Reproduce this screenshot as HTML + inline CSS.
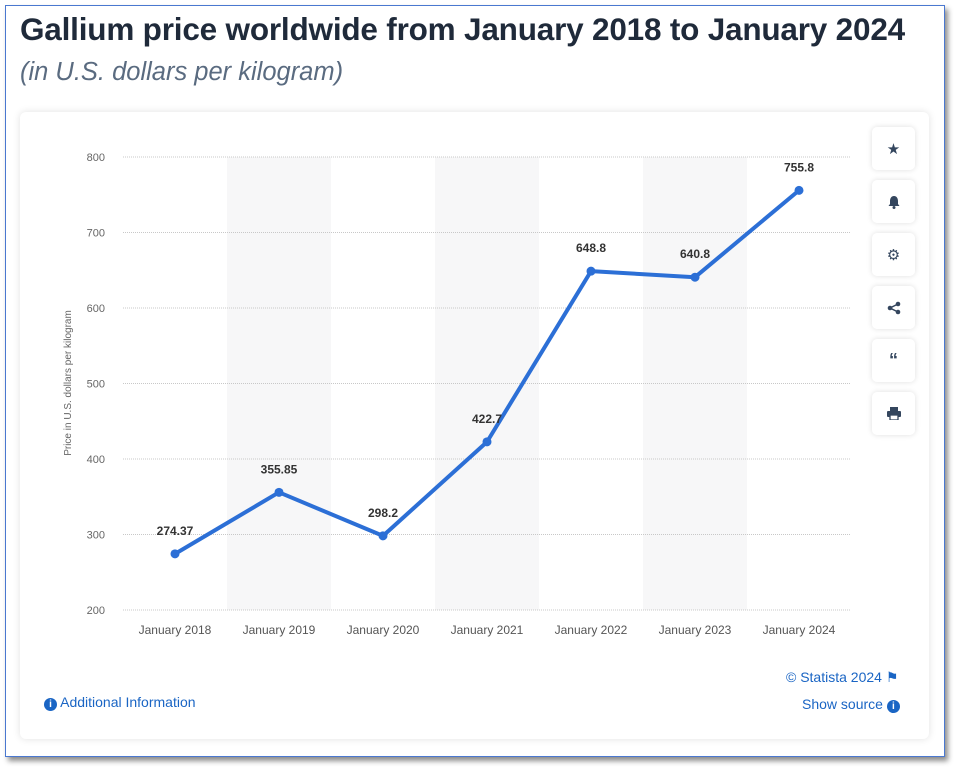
<!DOCTYPE html>
<html><head><meta charset="utf-8"><style>
body{margin:0;width:959px;height:770px;background:#fff;font-family:"Liberation Sans",sans-serif;position:relative;overflow:hidden}
#frame{position:absolute;left:5px;top:5px;width:938px;height:750px;border:1px solid #4a78d0;box-shadow:3px 4px 5px rgba(0,0,0,.45);background:#fff}
#title{position:absolute;left:20px;top:11px;font-size:31.5px;font-weight:bold;color:#1f2a3a;letter-spacing:-0.2px}
#sub{position:absolute;left:20px;top:58px;font-size:25.5px;font-style:italic;color:#5a6b80}
#card{position:absolute;left:20px;top:112px;width:909px;height:627px;background:#fff;border-radius:6px;box-shadow:0 0 8px rgba(0,0,0,.12)}
.btn{position:absolute;left:872px;width:43px;height:43px;background:#fff;border-radius:5px;box-shadow:0 0 6px rgba(0,0,0,.13);display:flex;align-items:center;justify-content:center;color:#34465e;font-size:15px}
.lnk{position:absolute;color:#1a65c4;font-size:14px}
</style></head><body>
<div id="frame"></div>
<div id="title">Gallium price worldwide from January 2018 to January 2024</div>
<div id="sub">(in U.S. dollars per kilogram)</div>
<div id="card"></div>
<svg id="chart" width="959" height="770" style="position:absolute;left:0;top:0"></svg>
<div class="btn" style="top:127px">★</div>
<div class="btn" style="top:180px"><svg width="12" height="14"><path d="M6 1C3 1 2 4 2 6V9L0.5 11H11.5L10 9V6C10 4 9 1 6 1Z" fill="#34465e"/><circle cx="6" cy="12.5" r="1.5" fill="#34465e"/></svg></div>
<div class="btn" style="top:233px">⚙</div>
<div class="btn" style="top:286px"><svg width="14" height="14"><circle cx="11" cy="3" r="2.3" fill="#34465e"/><circle cx="3" cy="7" r="2.3" fill="#34465e"/><circle cx="11" cy="11" r="2.3" fill="#34465e"/><path d="M11 3L3 7L11 11" stroke="#34465e" stroke-width="1.5" fill="none"/></svg></div>
<div class="btn" style="top:339px;font-weight:bold;font-size:18px">“</div>
<div class="btn" style="top:392px"><svg width="14" height="13"><rect x="3" y="0" width="8" height="4" fill="#34465e"/><rect x="0" y="4" width="14" height="6" rx="1" fill="#34465e"/><rect x="3" y="8" width="8" height="5" fill="#fff" stroke="#34465e" stroke-width="1.3"/></svg></div>
<div class="lnk" style="left:786px;top:669px">© Statista 2024 ⚑</div>
<div class="lnk" style="left:44px;top:694px"><span style="display:inline-block;width:13px;height:13px;border-radius:50%;background:#1a65c4;color:#fff;font-size:10px;text-align:center;line-height:13px;font-weight:bold">i</span> Additional Information</div>
<div class="lnk" style="left:802px;top:696px">Show source <span style="display:inline-block;width:13px;height:13px;border-radius:50%;background:#1a65c4;color:#fff;font-size:10px;text-align:center;line-height:13px;font-weight:bold">i</span></div>
<script>
const categories=["January 2018","January 2019","January 2020","January 2021","January 2022","January 2023","January 2024"];
const values=[274.37,355.85,298.2,422.7,648.8,640.8,755.8];
const valueLabels=["274.37","355.85","298.2","422.7","648.8","640.8","755.8"];
const yTicks=[200,300,400,500,600,700,800];
const NS="http://www.w3.org/2000/svg";
const svg=document.getElementById('chart');
const x0=123,bw=104,yTop=157,yBot=610,yMin=200,yMax=800;
const xs=i=>x0+bw*(i+0.5);
const ys=v=>yBot-(v-yMin)/(yMax-yMin)*(yBot-yTop);
function mk(t,a){const e=document.createElementNS(NS,t);for(const k in a)e.setAttribute(k,a[k]);svg.appendChild(e);return e;}
categories.forEach((c,i)=>{if(i%2==1){const r=mk('rect',{x:x0+bw*i,y:yTop,width:bw,height:yBot-yTop,fill:'#f7f7f8'});

}});
yTicks.forEach(t=>{const l=mk('line',{x1:x0,x2:x0+bw*7,y1:ys(t),y2:ys(t),stroke:'#c8c8c8','stroke-dasharray':'1 1'});


const tx=mk('text',{x:105,y:ys(t)+4,'text-anchor':'end','font-size':11,fill:'#666'});tx.textContent=t;

});
categories.forEach((c,i)=>{const tx=mk('text',{x:xs(i),y:634,'text-anchor':'middle','font-size':12,fill:'#555'});tx.textContent=c;

});
const yt=mk('text',{x:0,y:0,transform:'translate(71,383) rotate(-90)','text-anchor':'middle','font-size':10,fill:'#666'});yt.textContent='Price in U.S. dollars per kilogram';


const ln=mk('polyline',{points:values.map((v,i)=>xs(i)+','+ys(v)).join(' '),fill:'none',stroke:'#2c6fd6','stroke-width':4,'stroke-linejoin':'round'});


values.forEach((v,i)=>{const c=mk('circle',{cx:xs(i),cy:ys(v),r:4.5,fill:'#2c6fd6'});


const t=mk('text',{x:xs(i),y:ys(v)-19,'text-anchor':'middle','font-size':12,'font-weight':'bold',fill:'#333'});t.textContent=valueLabels[i];

});
</script>
</body></html>
